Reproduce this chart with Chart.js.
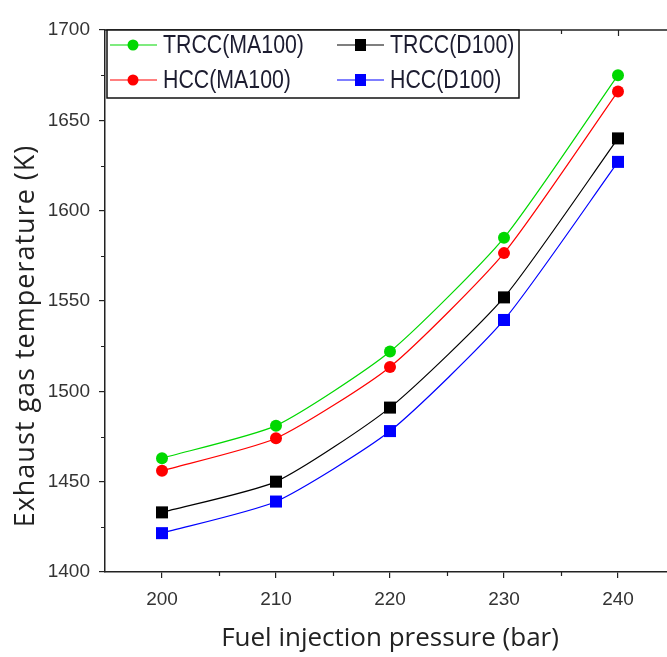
<!DOCTYPE html>
<html>
<head>
<meta charset="utf-8">
<script src="https://cdn.jsdelivr.net/npm/chart.js@4.4.1/dist/chart.umd.min.js"></script>
<style>
  html, body { margin: 0; padding: 0; background: #fff; overflow: hidden; }
  #wrap { width: 700px; height: 657px; }
</style>
</head>
<body>
<div id="wrap"><canvas id="egt" width="700" height="657"></canvas></div>
<script>
// Exhaust gas temperature vs fuel injection pressure
const pressures = [200, 210, 220, 230, 240];
const trccMA100 = [1463, 1481, 1522, 1585, 1675];
const hccMA100 = [1456, 1474, 1513.5, 1576.5, 1666];
const trccD100 = [1433, 1450, 1491, 1552, 1640];
const hccD100 = [1421.5, 1439, 1478, 1539.5, 1627];

const seriesNames = ["TRCC(MA100)", "HCC(MA100)", "TRCC(D100)", "HCC(D100)"];
const xTitle = "Fuel injection pressure (bar)";
const yTitle = "Exhaust gas temperature (K)";
const xRange = [195, 245];
const yRange = [1400, 1700];

const TICK_FONT = "'Liberation Sans', Arial, sans-serif";
const TITLE_FONT = "'Open Sans', 'Noto Sans', sans-serif";
const AXIS_COLOR = "#222";

const toPoints = (vals) => pressures.map((p, i) => ({x: p, y: vals[i]}));

function mkSet(label, vals, color, style, radius){
  return {
    label: label,
    data: toPoints(vals),
    borderColor: color,
    backgroundColor: color,
    borderWidth: 1.2,
    pointStyle: style,
    pointRadius: radius,
    pointHoverRadius: radius,
    pointBorderWidth: 0,
    tension: 0.2
  };
}

const datasets = [
  mkSet(seriesNames[0], trccMA100, "#00d800", "circle", 6),
  mkSet(seriesNames[1], hccMA100, "#ff0000", "circle", 6),
  mkSet(seriesNames[2], trccD100, "#000000", "rect", 8.5),
  mkSet(seriesNames[3], hccD100, "#0000ff", "rect", 8.5)
];

// frame, minor ticks, top ticks, y title and the boxed legend
const framePlugin = {
  id: "frame",
  afterDatasetsDraw(chart){
    const {ctx, chartArea: a, scales} = chart;
    const xs = scales.x, ys = scales.y;
    ctx.save();
    ctx.strokeStyle = AXIS_COLOR;
    ctx.lineWidth = 1.5;
    ctx.beginPath();
    ctx.moveTo(a.left, a.top); ctx.lineTo(a.right, a.top); ctx.lineTo(a.right, a.bottom);
    ctx.stroke();
    ctx.lineWidth = 1.2;
    ctx.beginPath();
    for(let v = xRange[0] + 5; v < xRange[1]; v += 5){
      const px = Math.round(xs.getPixelForValue(v)) + 0.5;
      const major = v % 10 === 0;
      if(!major){ ctx.moveTo(px, a.bottom); ctx.lineTo(px, a.bottom + 4); }
      ctx.moveTo(px, a.top); ctx.lineTo(px, a.top + (major ? 6 : 4));
    }
    for(let v = yRange[0] + 25; v < yRange[1]; v += 50){
      const py = Math.round(ys.getPixelForValue(v)) + 0.5;
      ctx.moveTo(a.left, py); ctx.lineTo(a.left - 4, py);
    }
    ctx.stroke();

    // y title, a bit below the axis middle like the original
    ctx.save();
    ctx.translate(34, 336);
    ctx.rotate(-Math.PI / 2);
    ctx.fillStyle = "#222";
    ctx.font = "27px " + TITLE_FONT;
    ctx.letterSpacing = "1px";
    ctx.textAlign = "center";
    ctx.textBaseline = "alphabetic";
    ctx.fillText(yTitle, 0, 0);
    ctx.restore();

    // legend box
    const box = {l: a.left + 2, t: a.top, r: 519, b: 98};
    ctx.fillStyle = "#fff";
    ctx.fillRect(box.l, box.t, box.r - box.l, box.b - box.t);
    ctx.strokeStyle = "#111";
    ctx.lineWidth = 1.5;
    ctx.strokeRect(box.l, box.t, box.r - box.l, box.b - box.t);
    const cols = [110, 337], rows = [45, 80];
    chart.data.datasets.forEach((ds, i) => {
      const x0 = cols[i < 2 ? 0 : 1], y0 = rows[i % 2];
      ctx.strokeStyle = ds.borderColor;
      ctx.lineWidth = 1.2;
      ctx.beginPath(); ctx.moveTo(x0, y0); ctx.lineTo(x0 + 47, y0); ctx.stroke();
      ctx.fillStyle = ds.backgroundColor;
      if(ds.pointStyle === "circle"){
        ctx.beginPath(); ctx.arc(x0 + 23, y0, 5.5, 0, Math.PI * 2); ctx.fill();
      }else{
        ctx.fillRect(x0 + 18, y0 - 6, 11, 12);
      }
      // condensed look of the original legend text
      ctx.save();
      ctx.translate(x0 + 53, y0 + 1);
      ctx.scale(0.82, 1);
      ctx.fillStyle = "#1c1c30";
      ctx.font = "26px " + TICK_FONT;
      ctx.textBaseline = "middle";
      ctx.textAlign = "left";
      ctx.fillText(ds.label, 0, 0);
      ctx.restore();
    });
    ctx.restore();
  }
};

const ctx = document.getElementById("egt").getContext("2d");
new Chart(ctx, {
  type: "line",
  data: { datasets: datasets },
  options: {
    responsive: false,
    animation: false,
    layout: { padding: { top: 30, right: 25, left: 0, bottom: 0 } },
    plugins: { legend: { display: false }, tooltip: { enabled: false } },
    scales: {
      x: {
        type: "linear",
        min: xRange[0], max: xRange[1],
        afterFit: (s) => { s.height = 85; },
        afterBuildTicks: (s) => { s.ticks = pressures.map(v => ({value: v})); },
        ticks: { color: "#333", padding: 10, font: { family: TICK_FONT, size: 19 } },
        grid: { drawOnChartArea: false, drawTicks: true, tickLength: 6, color: AXIS_COLOR, lineWidth: 1.2 },
        border: { color: AXIS_COLOR, width: 1.5 },
        title: {
          display: true,
          text: xTitle,
          color: "#222",
          font: { family: TITLE_FONT, size: 26 },
          padding: { top: 0, bottom: 3 }
        }
      },
      y: {
        min: yRange[0], max: yRange[1],
        afterFit: (s) => { s.width = 105; },
        ticks: {
          stepSize: 50, color: "#333", padding: 9,
          font: { family: TICK_FONT, size: 19 },
          callback: (v) => String(v)
        },
        grid: { drawOnChartArea: false, drawTicks: true, tickLength: 6, color: AXIS_COLOR, lineWidth: 1.2 },
        border: { color: AXIS_COLOR, width: 1.5 },
        title: { display: false, text: yTitle }
      }
    }
  },
  plugins: [framePlugin]
});
</script>
</body>
</html>
